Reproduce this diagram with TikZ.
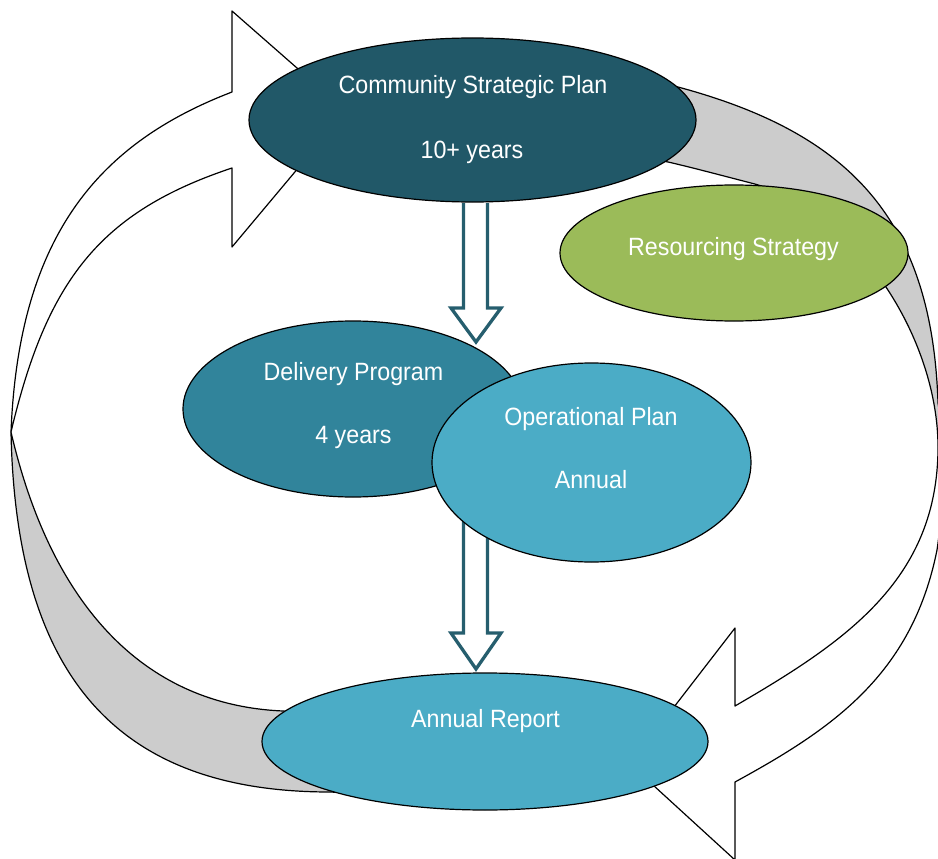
\documentclass[tikz,border=0pt]{standalone}
\usepackage{fontspec}
\newfontfamily\labfont{Liberation Sans}[FakeStretch=0.93]
\usetikzlibrary{shapes.geometric}
\definecolor{cspc}{RGB}{33,88,104}
\definecolor{dpc}{RGB}{49,132,155}
\definecolor{opc}{RGB}{75,172,198}
\definecolor{rsc}{RGB}{155,187,89}
\definecolor{grayc}{RGB}{204,204,204}
\definecolor{arrc}{RGB}{38,94,110}
\begin{document}
\begin{tikzpicture}[x=1pt,y=-1pt,line join=round,
  ell/.style={ellipse, draw=black, line width=1.2pt, inner sep=0pt},
  lbl/.style={text=white, font=\labfont\fontsize{25}{30}\selectfont, inner sep=0pt, anchor=base},
  band/.style={draw=black, line width=1.2pt},
  blk/.style={draw=arrc, fill=white, line width=3.3pt, line join=miter}]
\useasboundingbox (0,0) rectangle (938,859);
\clip (0,0) rectangle (938,859);

% left ribbon: white arrow (top) and grey tail (bottom)
\filldraw[band, fill=white] (11,432) .. controls (19,232) and (102,142) .. (232,92)
  -- (232,11) -- (346,111) -- (232,247) -- (232,168)
  .. controls (100,212) and (47,280) .. (11,432) -- cycle;
\filldraw[band, fill=grayc] (11,432) .. controls (16,680) and (120,792) .. (330,792)
  -- (420,796) -- (420,722) -- (283,711)
  .. controls (140,705) and (50,600) .. (11,432) -- cycle;

% right ribbon: grey tail (top) and white arrow (bottom)
\path[save path=\rrib] (600,72) -- (678,87)
  .. controls (845,132) and (932,215) .. (938,403)
  .. controls (946,450) and (943,510) .. (937,550)
  .. controls (912,675) and (832,729) .. (735,782)
  -- (735,860) -- (630,764) -- (735,628) -- (735,706)
  .. controls (845,642) and (938,580) .. (938,447)
  .. controls (938,340) and (858,210) .. (751,183)
  .. controls (720,175) and (690,167) .. (668,162) -- (600,148) -- cycle;
\fill[white, use path=\rrib];
\begin{scope}
  \clip (500,0) rectangle (960,445);
  \fill[grayc, use path=\rrib];
\end{scope}
\draw[band, use path=\rrib];

% ellipses
\node[ell, fill=cspc, minimum width=447pt, minimum height=164pt] (csp) at (472.5,120) {};
\node[ell, fill=rsc, minimum width=348pt, minimum height=136pt] (rs) at (734,253) {};
\node[ell, fill=dpc, minimum width=340pt, minimum height=176pt] (dp) at (353,409) {};
\filldraw[blk] (463.5,500) -- (463.5,633) -- (451,633) -- (476,669) -- (501,633) -- (487.5,633) -- (487.5,500) -- cycle;
\node[ell, fill=opc, minimum width=319pt, minimum height=199pt] (op) at (591.5,462.5) {};
\node[ell, fill=opc, minimum width=446pt, minimum height=137pt] (ar) at (485,741.5) {};
\filldraw[blk] (463.5,203) -- (463.5,308) -- (451,308) -- (476,342) -- (501,308) -- (487.5,308) -- (487.5,203);

% labels
\node[lbl] (t1) at (473,93) {Community Strategic Plan};
\node[lbl] (t2) at (472,158) {10+ years};
\node[lbl] (t3) at (733.5,255) {Resourcing Strategy};
\node[lbl] (t4) at (353.5,380) {Delivery Program};
\node[lbl] (t5) at (353.5,443) {4 years};
\node[lbl] (t6) at (591,425) {Operational Plan};
\node[lbl] (t7) at (591,488) {Annual};
\node[lbl] (t8) at (485.5,727) {Annual Report};
\end{tikzpicture}
\end{document}
